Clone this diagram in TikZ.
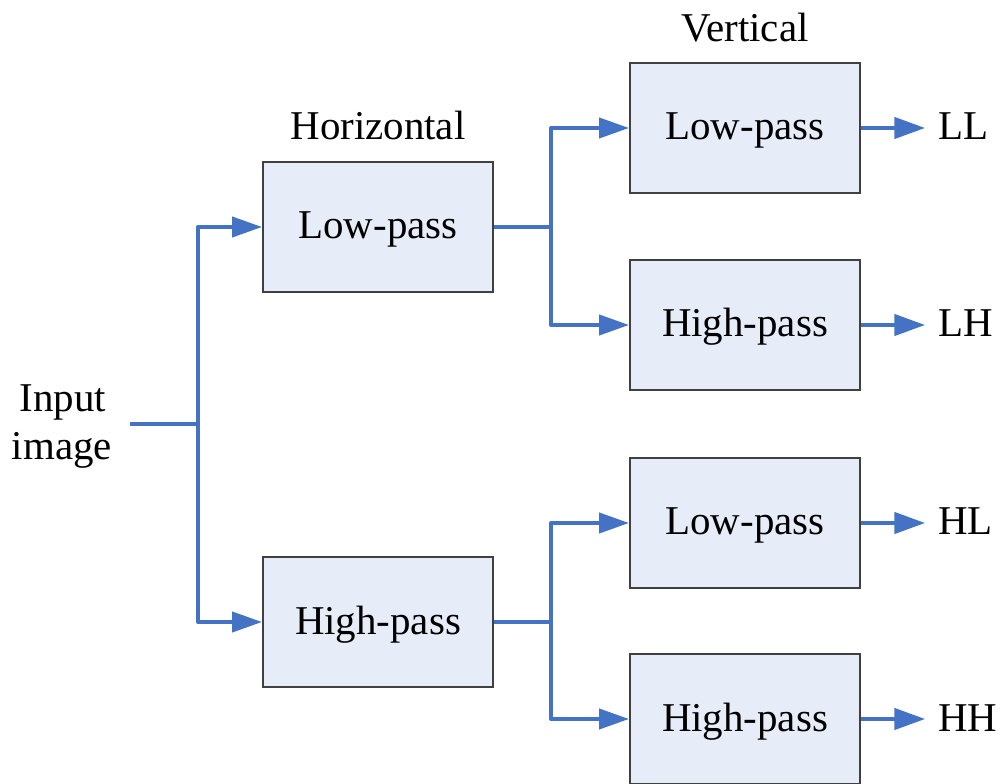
\documentclass[tikz,border=0pt]{standalone}
\usepackage{fontspec}
\setmainfont{Liberation Serif}
\usetikzlibrary{arrows.meta}
\definecolor{flowblue}{HTML}{4472C4}
\definecolor{boxfill}{HTML}{E7EDF8}
\definecolor{boxline}{HTML}{404040}
\begin{document}
\begin{tikzpicture}[x=0.75pt,y=-0.75pt,
  every node/.style={font=\fontsize{30.7}{37}\selectfont},
  filterbox/.style={draw=boxline,line width=1.4pt,fill=boxfill,
    minimum width=172.5pt,minimum height=97pt,inner sep=0pt,
    text height=24pt,text depth=6pt},
  flow/.style={draw=flowblue,line width=3pt,line join=round},
  flowarrow/.style={flow,-{Triangle[length=22.5pt,width=15pt]}},
  outarrow/.style={draw=flowblue,line width=2.4pt,-{Triangle[length=23pt,width=16pt]}},
  label/.style={anchor=base,inner sep=0pt},
  outlabel/.style={anchor=base west,inner sep=0pt}]
\useasboundingbox (0,0) rectangle (1008,784);
\fill[white] (0,0) rectangle (1008,784);
\clip (0,0) rectangle (1008,784);

% input label and its feed line
\node[label] (inputA) at (63,412) {Input};
\node[label] (inputB) at (62,460) {image};
\coordinate (inp) at (130,424);
\coordinate (split0) at (198,424);

% horizontal filters
\node[label] (horiz) at (378,140) {Horizontal};
\node[filterbox] (hlow) at (378,227) {Low-pass};
\node[filterbox] (hhigh) at (378,622) {High-pass};

% vertical filters
\node[label] (vert) at (745,42) {Vertical};
\node[filterbox] (ll) at (745,128) {Low-pass};
\node[filterbox] (lh) at (745,325) {High-pass};
\node[filterbox] (hl) at (745,523) {Low-pass};
\node[filterbox] (hh) at (745,719) {High-pass};

% branch points after the horizontal stage
\coordinate (split1) at (551,227);
\coordinate (split2) at (551,622);

% connectors
\draw[flow] (inp) -- (split0);
\draw[flowarrow] (split0) |- (hlow.west);
\draw[flowarrow] (split0) |- (hhigh.west);

\draw[flow] (hlow.east) -- (split1);
\draw[flowarrow] (split1) |- (ll.west);
\draw[flowarrow] (split1) |- (lh.west);

\draw[flow] (hhigh.east) -- (split2);
\draw[flowarrow] (split2) |- (hl.west);
\draw[flowarrow] (split2) |- (hh.west);

% sub-band outputs
\coordinate (oll) at (925,128);
\coordinate (olh) at (925,325);
\coordinate (ohl) at (925,523);
\coordinate (ohh) at (925,719);
\draw[outarrow] (ll.east) -- (oll);
\draw[outarrow] (lh.east) -- (olh);
\draw[outarrow] (hl.east) -- (ohl);
\draw[outarrow] (hh.east) -- (ohh);
\node[outlabel] (tll) at (938,140) {LL};
\node[outlabel] (tlh) at (938,337) {LH};
\node[outlabel] (thl) at (938,535) {HL};
\node[outlabel] (thh) at (938,731) {HH};
\end{tikzpicture}
\end{document}
